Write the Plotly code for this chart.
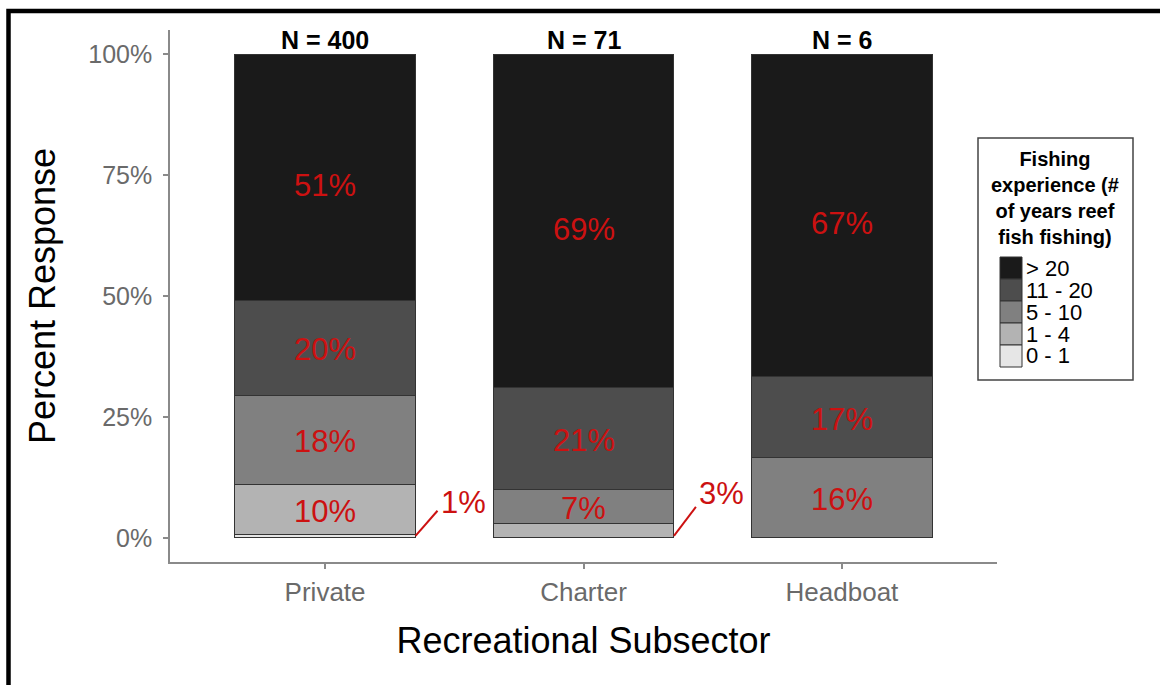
import plotly.graph_objects as go
import numpy as np

# ---------------- data ----------------
subsectors = ["Private", "Charter", "Headboat"]
sample_sizes = [400, 71, 6]
levels = ["0 - 1", "1 - 4", "5 - 10", "11 - 20", "> 20"]          # bottom -> top
colors = ["#E6E6E6", "#B3B3B3", "#808080", "#4D4D4D", "#1A1A1A"]

pct_0_1 = [0.75, 0.0, 0.0]
pct_1_4 = [10.25, 2.9, 0.0]
pct_5_10 = [18.5, 7.0, 16.6]
pct_11_20 = [19.5, 21.1, 16.7]
pct_gt20 = [51.0, 69.0, 66.7]

lab_0_1 = ["", "", ""]
lab_1_4 = ["10%", "", ""]
lab_5_10 = ["18%", "7%", "16%"]
lab_11_20 = ["20%", "21%", "17%"]
lab_gt20 = ["51%", "69%", "67%"]

# small segments labelled outside with leader lines:
# (category index, label, leader end y %, label centre y %)
callouts = [(0, "1%", 5.6, 7.4), (1, "3%", 6.4, 9.1)]

yticks = [0, 25, 50, 75, 100]
ytick_text = ["0%", "25%", "50%", "75%", "100%"]

series = [pct_0_1, pct_1_4, pct_5_10, pct_11_20, pct_gt20]
labels = [lab_0_1, lab_1_4, lab_5_10, lab_11_20, lab_gt20]

FONT = "Liberation Sans, Arial, sans-serif"
RED = "#CC1111"
BAR_W = 0.7

fig = go.Figure()
for name, vals, col in zip(levels, series, colors):
    fig.add_trace(go.Bar(
        x=subsectors, y=vals, name=name, width=BAR_W,
        marker=dict(color=col, line=dict(color="#333333", width=1)),
        showlegend=False, hoverinfo="x+y+name",
    ))

# segment labels, centred in each segment (slightly below centre as in source)
vals_arr = np.array(series)
cum = np.cumsum(vals_arr, axis=0)
mid = cum - vals_arr / 2
n_lev = len(levels)
for j in range(n_lev):
    for i, s in enumerate(subsectors):
        t = labels[j][i]
        if not t:
            continue
        shift = -8 if j == n_lev - 1 else -2
        fig.add_annotation(x=s, y=mid[j, i], text=t, showarrow=False,
                           yshift=shift,
                           font=dict(size=31, color=RED, family=FONT))

# N labels above bars
for i, (s, n) in enumerate(zip(subsectors, sample_sizes)):
    fig.add_annotation(x=s, y=100, text=f"<b>N = {n}</b>", showarrow=False,
                       yanchor="bottom", yshift=-2,
                       font=dict(size=25, color="black", family=FONT))

# callouts for thin segments
for idx, txt, y_end, y_lab in callouts:
    x0 = idx + BAR_W / 2
    x1 = x0 + 0.085
    fig.add_shape(type="line", xref="x", yref="y", x0=x0, y0=0.4, x1=x1, y1=y_end,
                  line=dict(color=RED, width=2))
    fig.add_annotation(x=x1 + 0.005, y=y_lab, text=txt, showarrow=False,
                       xanchor="left", yanchor="middle",
                       font=dict(size=31, color=RED, family=FONT))

# --------- manual legend ---------
PL, PR, PT, PB = 170, 997, 30, 562
W, H = PR - PL, PB - PT
def px(x):
    return (x - PL) / W
def py(y):
    return (PB - y) / H

fig.add_shape(type="rect", xref="paper", yref="paper",
              x0=px(978), x1=px(1133), y0=py(380), y1=py(138),
              line=dict(color="#444444", width=1.5), fillcolor="white")
fig.add_annotation(xref="paper", yref="paper", x=px(1055), y=py(146),
                   xanchor="center", yanchor="top", showarrow=False,
                   text="<b>Fishing<br>experience (#<br>of years reef<br>fish fishing)</b>",
                   align="center",
                   font=dict(size=20, color="black", family=FONT))
sw = 22
top = 257
for k, (name, col) in enumerate(zip(levels[::-1], colors[::-1])):
    y_top = top + k * sw
    fig.add_shape(type="rect", xref="paper", yref="paper",
                  x0=px(1000), x1=px(1000 + sw), y0=py(y_top + sw), y1=py(y_top),
                  line=dict(color="#333333", width=1), fillcolor=col)
    fig.add_annotation(xref="paper", yref="paper", x=px(1024), y=py(y_top + sw / 2),
                       xanchor="left", yanchor="middle", showarrow=False, text=name,
                       font=dict(size=22, color="black", family=FONT))

# outer black frame
fig.add_shape(type="rect", xref="paper", yref="paper",
              x0=px(8.5), x1=px(1180), y0=py(710), y1=py(11),
              line=dict(color="black", width=4.5), fillcolor="rgba(0,0,0,0)",
              layer="above")

fig.update_layout(
    barmode="stack",
    width=1160, height=685,
    margin=dict(l=PL, r=1160 - PR, t=PT, b=685 - PB),
    plot_bgcolor="white", paper_bgcolor="white",
    font=dict(family=FONT),
    bargap=0.3,
)
fig.update_xaxes(
    range=[-0.6, 2.6], showline=True, linecolor="#8a8a8a", linewidth=1.5,
    ticks="outside", ticklen=5, tickcolor="#8a8a8a", tickwidth=1.5,
    tickfont=dict(size=26, color="#6a6a6a", family=FONT),
    ticklabelstandoff=1,
    showgrid=False, zeroline=False,
    title=dict(text="Recreational Subsector", font=dict(size=36, color="black", family=FONT),
               standoff=22),
)
fig.update_yaxes(
    range=[-5, 105], tickvals=yticks, ticktext=ytick_text,
    showline=True, linecolor="#8a8a8a", linewidth=1.5,
    ticks="outside", ticklen=5, tickcolor="#8a8a8a", tickwidth=1.5,
    tickfont=dict(size=25, color="#6a6a6a", family=FONT),
    ticklabelstandoff=6,
    showgrid=False, zeroline=False,
    title=dict(text="Percent Response", font=dict(size=36, color="black", family=FONT),
               standoff=22),
)

fig.write_html("out.html", config={"displayModeBar": False},
               post_script="document.body.style.margin='0px';document.body.style.padding='0px';")
